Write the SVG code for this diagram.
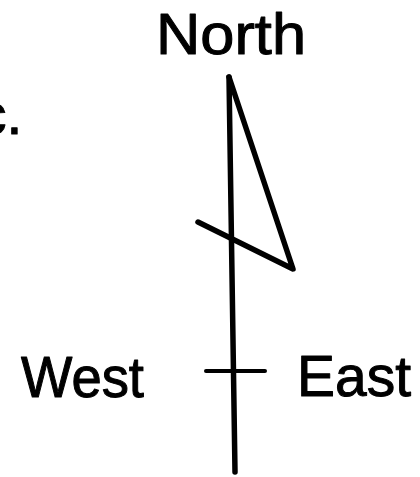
<svg xmlns="http://www.w3.org/2000/svg" width="420" height="477" viewBox="0 0 420 477">
  <style>
    .lbl { font-family: "Liberation Sans", Arial, sans-serif; font-size: 57px; fill: #000; stroke: #000; stroke-width: 1; stroke-linejoin: round; }
    .ln { fill: none; stroke: #000; stroke-linecap: round; stroke-linejoin: round; }
  </style>
  <rect width="420" height="477" fill="#fff"/>
  <g id="labels">
    <text class="lbl" x="156" y="54" textLength="150" lengthAdjust="spacingAndGlyphs">North</text>
    <text class="lbl" x="-22" y="134">c.</text>
    <text class="lbl" x="21" y="397" textLength="123" lengthAdjust="spacingAndGlyphs">West</text>
    <text class="lbl" x="297" y="396" textLength="114" lengthAdjust="spacingAndGlyphs">East</text>
  </g>
  <g id="shapes">
    <path class="ln" stroke-width="5.5" d="M229,77 L235,472"/>
    <path class="ln" stroke-width="5.5" d="M229,77 L293,269 L198,222"/>
    <path class="ln" stroke-width="4" d="M206,371 L265,371"/>
  </g>
</svg>
